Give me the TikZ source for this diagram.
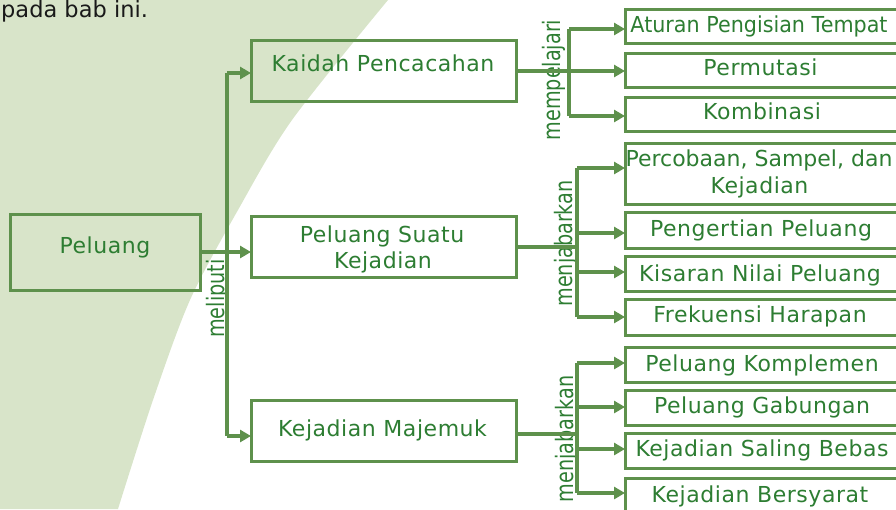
\documentclass[tikz,border=0pt]{standalone}
\usepackage{fontspec}
\setmainfont{DejaVu Sans}
\newfontfamily\spacedfont{DejaVu Sans}[LetterSpace=2.5]
\usetikzlibrary{arrows.meta}
\definecolor{lineg}{RGB}{94,145,76}
\definecolor{textg}{RGB}{45,125,50}
\definecolor{bgg}{RGB}{216,228,201}
\definecolor{introk}{RGB}{25,25,25}
\begin{document}
\begin{tikzpicture}[x=1pt,y=-1pt,
  box/.style={draw=lineg,line width=3pt,rectangle,inner sep=0pt,outer sep=0pt},
  txt/.style={text=textg,font=\spacedfont\fontsize{22}{26}\selectfont,inner sep=0pt,anchor=base},
  ntxt/.style={text=textg,font=\fontsize{22}{26}\selectfont,inner sep=0pt,anchor=base},
  rot/.style={text=textg,font=\fontsize{24}{28}\selectfont,inner sep=0pt,anchor=base,rotate=90},
  conn/.style={draw=lineg,line width=3.5pt},
  arr/.style={draw=lineg,line width=3.5pt,-{Triangle[length=11pt,width=12pt]}}]
\useasboundingbox (0,0) rectangle (896,509);
\clip (0,0) rectangle (896,509);
% background
\fill[bgg] (0,0) -- plot[smooth] coordinates {(388,0) (292,120) (238,210) (190,300) (153,400) (118,509)} -- (0,509) -- cycle;
\node[anchor=base west,inner sep=0pt,text=introk,font=\fontsize{22.5}{26}\selectfont] (intro) at (1,17) {pada bab ini.};
% boxes
\node[box,minimum width=190pt,minimum height=76pt] (peluang) at (105,252) {};
\node[box,minimum width=265pt,minimum height=61pt] (kaidah) at (383.5,70.5) {};
\node[box,minimum width=265pt,minimum height=61pt] (suatu) at (383.5,246.5) {};
\node[box,minimum width=265pt,minimum height=61pt] (kejm) at (383.5,430.5) {};
\node[box,minimum width=275pt,minimum height=34pt] (r1) at (762.5,26) {};
\node[box,minimum width=275pt,minimum height=34pt] (r2) at (762.5,70) {};
\node[box,minimum width=275pt,minimum height=34pt] (r3) at (762.5,114) {};
\node[box,minimum width=275pt,minimum height=61pt] (r4) at (762.5,173.5) {};
\node[box,minimum width=275pt,minimum height=36pt] (r5) at (762.5,230) {};
\node[box,minimum width=275pt,minimum height=35pt] (r6) at (762.5,273.5) {};
\node[box,minimum width=275pt,minimum height=36pt] (r7) at (762.5,317) {};
\node[box,minimum width=275pt,minimum height=35pt] (r8) at (762.5,364.5) {};
\node[box,minimum width=275pt,minimum height=35pt] (r9) at (762.5,407.5) {};
\node[box,minimum width=275pt,minimum height=35pt] (r10) at (762.5,450.5) {};
\node[box,minimum width=275pt,minimum height=37pt] (r11) at (762.5,496.5) {};
% texts
\node[txt] (tpeluang) at (105,253) {Peluang};
\node[txt] (tkaidah) at (383,71) {Kaidah Pencacahan};
\node[txt] (tsuatua) at (382,242) {Peluang Suatu};
\node[txt] (tsuatub) at (383,268) {Kejadian};
\node[txt] (tkejm) at (382.5,436) {Kejadian Majemuk};
\node[ntxt] (t1) at (759,32) {\scalebox{0.94}[1]{Aturan Pengisian Tempat}};
\node[txt] (t2) at (760.5,75) {Permutasi};
\node[txt] (t3) at (762,119) {Kombinasi};
\node[ntxt] (t4a) at (759,166.5) {Percobaan, Sampel, dan};
\node[txt] (t4b) at (759.5,193) {Kejadian};
\node[txt] (t5) at (761,236.5) {Pengertian Peluang};
\node[txt] (t6) at (760,281.5) {Kisaran Nilai Peluang};
\node[txt] (t7) at (760,322.5) {Frekuensi Harapan};
\node[txt] (t8) at (762,371) {Peluang Komplemen};
\node[txt] (t9) at (762,413) {Peluang Gabungan};
\node[txt] (t10) at (762,456) {Kejadian Saling Bebas};
\node[txt] (t11) at (760,502.5) {Kejadian Bersyarat};
% rotated labels
\node[rot] (lmeliputi) at (224,298.5) {\scalebox{0.8}[1]{meliputi}};
\node[rot] (lmempelajari) at (560,80) {\scalebox{0.8}[1]{mempelajari}};
\node[rot] (lmenjabarkan1) at (572,243.5) {\scalebox{0.8}[1]{menjabarkan}};
\node[rot] (lmenjabarkan2) at (573,439) {\scalebox{0.8}[1]{menjabarkan}};
% trunk from Peluang
\coordinate (j1) at (227,73);
\coordinate (j2) at (227,436);
\coordinate (p0) at (200,252);
\draw[conn] (j1) -- (j2);
\draw[arr] (j1) -- (kaidah.west |- j1);
\draw[arr] (j2) -- (kejm.west |- j2);
\draw[arr] (peluang.east |- p0) -- (suatu.west |- p0);
% Kaidah group
\coordinate (k0) at (516,71);
\coordinate (ka) at (569,29);
\coordinate (kb) at (569,116);
\draw[arr] (kaidah.east |- k0) -- (r2.west |- k0);
\draw[conn] (ka) -- (kb);
\draw[arr] (ka) -- (r1.west |- ka);
\draw[arr] (kb) -- (r3.west |- kb);
% Suatu group
\coordinate (s0) at (577,247);
\coordinate (sa) at (577,168);
\coordinate (sb) at (577,233);
\coordinate (sc) at (577,272);
\coordinate (sd) at (577,317);
\draw[conn] (suatu.east |- s0) -- (s0);
\draw[conn] (sa) -- (sd);
\draw[arr] (sa) -- (r4.west |- sa);
\draw[arr] (sb) -- (r5.west |- sb);
\draw[arr] (sc) -- (r6.west |- sc);
\draw[arr] (sd) -- (r7.west |- sd);
% Kejadian Majemuk group
\coordinate (m0) at (577,434);
\coordinate (ma) at (577,363);
\coordinate (mb) at (577,407);
\coordinate (mc) at (577,449);
\coordinate (md) at (577,493);
\draw[conn] (kejm.east |- m0) -- (m0);
\draw[conn] (ma) -- (md);
\draw[arr] (ma) -- (r8.west |- ma);
\draw[arr] (mb) -- (r9.west |- mb);
\draw[arr] (mc) -- (r10.west |- mc);
\draw[arr] (md) -- (r11.west |- md);
\end{tikzpicture}
\end{document}
